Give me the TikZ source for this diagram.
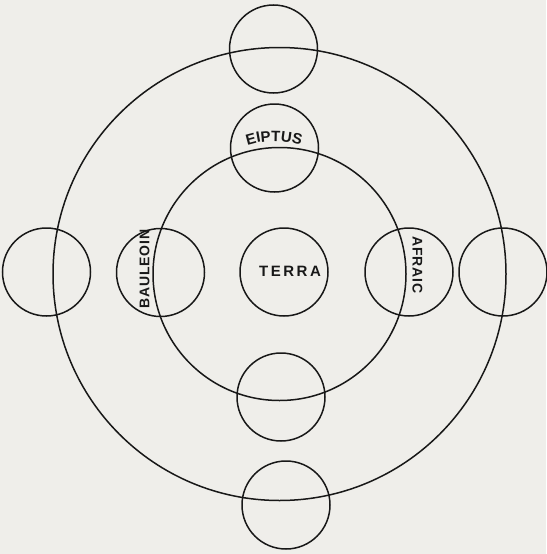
\documentclass[tikz,border=0pt]{standalone}
\usepackage{fontspec}
\setmainfont{Liberation Sans}
\newfontfamily\lblfam[LetterSpace=6]{Liberation Sans Bold}
\newfontfamily\widefam[LetterSpace=17]{Liberation Sans Bold}
\usetikzlibrary{decorations.text}
\definecolor{paper}{RGB}{239,238,234}
\definecolor{ink}{RGB}{24,24,24}
\newcommand\lblfont{\lblfam\fontsize{14}{16}\selectfont}
\newcommand\widefont{\widefam\fontsize{15}{17}\selectfont}
\begin{document}
\begin{tikzpicture}[x=1pt,y=-1pt,
  ring/.style={circle,draw=ink,line width=1.5pt,inner sep=0pt},
  orb/.style={circle,draw=ink,line width=1.5pt,minimum size=88pt,inner sep=0pt},
  lbl/.style={font=\lblfont,text=ink,inner sep=0pt},
  wlbl/.style={font=\widefont,text=ink,inner sep=0pt}]
\fill[paper] (0,0) rectangle (546,554);
\useasboundingbox (0,0) rectangle (546,554);
% main rings
\node[ring,minimum size=453pt] (outer) at (279.5,274) {};
\node[ring,minimum size=253pt] (inner) at (279.5,274) {};
% small circles
\node[orb] (terra) at (284,272) {};
\node[orb] (topout) at (273.5,49) {};
\node[orb] (topin) at (274.5,148) {};
\node[orb] (leftin) at (160.5,272.5) {};
\node[orb] (rightin) at (409,272) {};
\node[orb] (leftout) at (46.5,272) {};
\node[orb] (rightout) at (503,272) {};
\node[orb] (botin) at (281,397) {};
\node[orb] (botout) at (286,505) {};
% labels
\node[wlbl] (terralbl) at (290,271) {TERRA};
\node[lbl,rotate=90] (bauleoin) at (144.5,269) {BAULEOIN};
\node[lbl,rotate=-90] (afraic) at (417.5,265) {AFRAIC};
\path[decorate,decoration={text along path,text align=center,
  text={|\widefont\color{ink}|EIPTUS}}]
  (235.5,150.5) arc[start angle=243,end angle=297,radius=85];
\end{tikzpicture}
\end{document}
